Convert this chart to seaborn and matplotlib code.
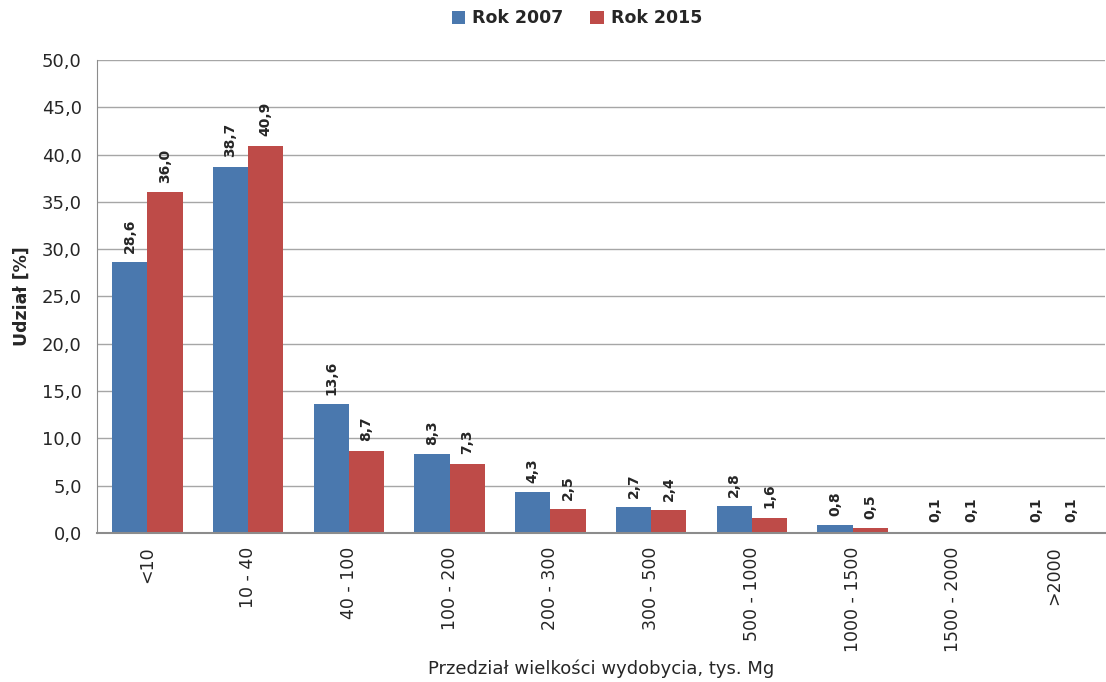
import matplotlib
matplotlib.use("Agg")
import matplotlib.pyplot as plt
import seaborn as sns
import pandas as pd
import numpy as np
from matplotlib.ticker import FixedLocator, FuncFormatter

categories = ["<10", "10 - 40", "40 - 100", "100 - 200", "200 - 300", "300 - 500",
              "500 - 1000", "1000 - 1500", "1500 - 2000", ">2000"]
rok_2007 = [28.6, 38.7, 13.6, 8.3, 4.3, 2.7, 2.8, 0.8, 0.1, 0.1]
rok_2015 = [36.0, 40.9, 8.7, 7.3, 2.5, 2.4, 1.6, 0.5, 0.1, 0.1]
series_names = ["Rok 2007", "Rok 2015"]
colors = ["#4A78AE", "#BE4B48"]

df = pd.DataFrame({
    "kat": categories * 2,
    "val": rok_2007 + rok_2015,
    "seria": [series_names[0]] * len(categories) + [series_names[1]] * len(categories),
})

sns.set_style("white")
plt.rcParams["font.family"] = ["DejaVu Sans"]

fig = plt.figure(figsize=(11.06, 6.82), dpi=100)
ax = fig.add_axes([0.0877, 0.2185, 0.911, 0.6935])

sns.barplot(data=df, x="kat", y="val", hue="seria", palette=colors, order=categories,
            hue_order=series_names, width=0.7, ax=ax, saturation=1, edgecolor="none")

ax.set_ylim(0, 50)
ax.set_xlim(-0.5, len(categories) - 0.5)
ax.set_yticks(np.arange(0, 50.1, 5))
ax.yaxis.set_major_formatter(FuncFormatter(lambda v, p: f"{v:.1f}".replace(".", ",")))
ax.yaxis.grid(True, color="#A6A6A6", linewidth=1.0)
ax.set_axisbelow(True)
for s in ["top", "right"]:
    ax.spines[s].set_visible(False)
ax.spines["left"].set_color("#8C8C8C")
ax.spines["bottom"].set_color("#8C8C8C")
ax.spines["bottom"].set_linewidth(1.5)
ax.tick_params(axis="y", which="major", length=7, color="#8C8C8C", labelsize=13,
               labelcolor="#262626", direction="out", pad=4)
ax.tick_params(axis="x", which="major", length=0, labelsize=12.5, labelcolor="#262626",
               rotation=90, pad=10)
ax.xaxis.set_minor_locator(FixedLocator(np.arange(-0.5, len(categories), 1)))
ax.tick_params(axis="x", which="minor", length=7, color="#8C8C8C", direction="out")

for cont in ax.containers:
    ax.bar_label(cont, labels=[f"{v:.1f}".replace(".", ",") for v in cont.datavalues],
                 rotation=90, padding=7, fontsize=10, fontweight="bold", color="#262626")

ax.set_ylabel("Udział [%]", fontsize=12.5, fontweight="bold", color="#262626", labelpad=8)
ax.set_xlabel("Przedział wielkości wydobycia, tys. Mg", fontsize=13, color="#262626")
ax.xaxis.set_label_coords(0.5, -0.268)

ax.legend(loc="upper center", bbox_to_anchor=(0.5 - 0.0877 / 2 + 0.02, 1.14), ncol=2,
          frameon=False, handlelength=0.8, handleheight=0.8,
          columnspacing=1.5, handletextpad=0.4, prop={"weight": "bold", "size": 12.5})

fig.savefig("out.png", dpi=100)
